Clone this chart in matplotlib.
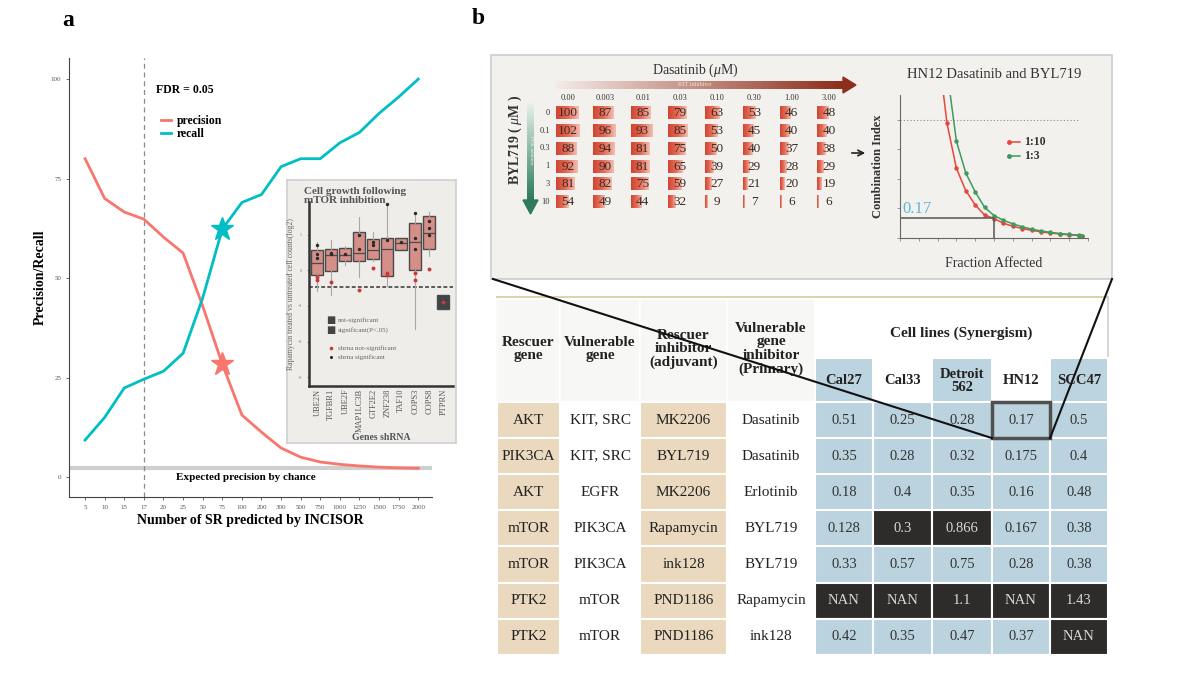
import numpy as np
import matplotlib
matplotlib.use("Agg")
import matplotlib.pyplot as plt
from matplotlib.patches import Rectangle, Polygon
from matplotlib.colors import LinearSegmentedColormap

plt.rcParams['font.family'] = ['Liberation Serif', 'DejaVu Serif']
plt.rcParams['mathtext.fontset'] = 'custom'
plt.rcParams['mathtext.rm'] = 'Liberation Serif'
plt.rcParams['mathtext.it'] = 'Liberation Serif:italic'

W, H = 1200, 676

# ---- panel a: precision / recall
sr_labels = ["5", "10", "15", "17", "20", "25", "50", "75", "100", "200", "300",
             "500", "750", "1000", "1250", "1500", "1750", "2000"]
precision = [80, 70, 66.6, 64.8, 60.3, 56.3, 43, 28.4, 15.6, 11.3, 7.3, 5, 3.8, 3.2, 2.8, 2.5, 2.3, 2.2]
recall = [9.3, 15, 22.4, 24.6, 26.6, 31.1, 45, 62.3, 69, 71, 78, 80, 80, 84, 86.6, 91.4, 95.5, 100]
chance_precision = 2.3
fdr_cut = "17"
star_at = "75"

# ---- inset: boxplots of shRNA growth
genes = ["UBE2N", "TGFBR1", "UBE2F", "MAP1LC3B", "GTF2E2", "ZNF238", "TAF10", "COPS3", "COPS8", "PTPRN"]
box_whishi = [0.8, 0.85, 0.67, 1.5, 1.08, 1.87, 0.92, 1.6, 1.65, -0.7]
box_q3 = [0.56, 0.59, 0.62, 1.08, 0.87, 0.9, 0.92, 1.33, 1.52, -0.7]
box_med = [0.2, 0.43, 0.43, 0.5, 0.57, 0.6, 0.76, 0.8, 1.04, -0.9]
box_q1 = [-0.14, -0.01, 0.25, 0.25, 0.31, -0.15, 0.57, 0.02, 0.59, -1.1]
box_whislo = [-0.58, -0.68, 0.15, -0.2, 0.25, -0.44, 0.57, -1.65, 0.39, -1.1]
box_significant = [True, True, True, True, True, True, True, True, True, False]
red_gene = [0, 0, 1, 3, 4, 5, 5, 7, 7, 8, 9]
red_val = [-0.2, -0.27, -0.33, -0.55, 0.06, -0.08, -0.12, -0.28, -0.07, 0.04, -0.9]
black_gene = [0, 0, 0, 1, 1, 2, 3, 3, 4, 4, 5, 5, 6, 7, 7, 7, 8, 8, 8]
black_val = [0.7, 0.35, 0.45, 0.5, 0.45, 0.45, 1.0, 0.6, 0.8, 0.7, 1.87, 0.85, 0.8, 1.6, 0.6, 0.9, 1.4, 1.2, 1.0]
control_level = -0.46

# ---- panel b: dose matrix
dasatinib_doses = ["0.00", "0.003", "0.01", "0.03", "0.10", "0.30", "1.00", "3.00"]
byl719_doses = ["0", "0.1", "0.3", "1", "3", "10"]
viability = [
    [100, 87, 85, 79, 63, 53, 46, 48],
    [102, 96, 93, 85, 53, 45, 40, 40],
    [88, 94, 81, 75, 50, 40, 37, 38],
    [92, 90, 81, 65, 39, 29, 28, 29],
    [81, 82, 75, 59, 27, 21, 20, 19],
    [54, 49, 44, 32, 9, 7, 6, 6],
]

# ---- combination index curves
fa_110 = [0.225, 0.25, 0.30, 0.35, 0.40, 0.45, 0.50, 0.55, 0.60, 0.65, 0.70, 0.75, 0.80, 0.85, 0.90, 0.95, 0.97]
ci_110 = [1.30, 0.97, 0.59, 0.40, 0.28, 0.195, 0.165, 0.125, 0.10, 0.08, 0.065, 0.052, 0.042, 0.034, 0.027, 0.021, 0.019]
fa_13 = [0.26, 0.30, 0.35, 0.40, 0.45, 0.50, 0.55, 0.60, 0.65, 0.70, 0.75, 0.80, 0.85, 0.90, 0.95, 0.97]
ci_13 = [1.30, 0.82, 0.55, 0.39, 0.26, 0.19, 0.15, 0.12, 0.095, 0.075, 0.06, 0.048, 0.038, 0.03, 0.024, 0.021]
ci_hn12 = 0.17
fa_hn12 = 0.5

# ---- synergy table
rescuer_gene = ["AKT", "PIK3CA", "AKT", "mTOR", "mTOR", "PTK2", "PTK2"]
vulnerable_gene = ["KIT, SRC", "KIT, SRC", "EGFR", "PIK3CA", "PIK3CA", "mTOR", "mTOR"]
rescuer_inhibitor = ["MK2206", "BYL719", "MK2206", "Rapamycin", "ink128", "PND1186", "PND1186"]
vulnerable_inhibitor = ["Dasatinib", "Dasatinib", "Erlotinib", "BYL719", "BYL719", "Rapamycin", "ink128"]
cell_lines = ["Cal27", "Cal33", "Detroit\n562", "HN12", "SCC47"]
ci_cal27 = ["0.51", "0.35", "0.18", "0.128", "0.33", "NAN", "0.42"]
ci_cal33 = ["0.25", "0.28", "0.4", "0.3", "0.57", "NAN", "0.35"]
ci_detroit = ["0.28", "0.32", "0.35", "0.866", "0.75", "1.1", "0.47"]
ci_hn12_col = ["0.17", "0.175", "0.16", "0.167", "0.28", "NAN", "0.37"]
ci_scc47 = ["0.5", "0.4", "0.48", "0.38", "0.38", "1.43", "NAN"]
dark_cells = [(3, 1), (3, 2), (5, 0), (5, 1), (5, 2), (5, 3), (5, 4), (6, 4)]

fig = plt.figure(figsize=(12, 6.76), dpi=100)


def px_axes(x0, y0, x1, y1, **kw):
    return fig.add_axes([x0 / W, 1 - y1 / H, (x1 - x0) / W, (y1 - y0) / H], **kw)


# background canvas in pixel coordinates
bg = px_axes(0, 0, W, H)
bg.set_xlim(0, W)
bg.set_ylim(H, 0)
bg.axis("off")
bg.text(68, 20, "a", fontsize=17, fontweight="bold", ha="center", va="center")
bg.text(478, 18, "b", fontsize=17, fontweight="bold", ha="center", va="center")

# ================= panel a =================
ax = px_axes(69, 58, 432, 497)
x = np.arange(len(sr_labels))
red, teal = "#F8766D", "#00BFC4"
ax.axhline(chance_precision, color="#CFCFCF", lw=3, zorder=1)
ax.axvline(sr_labels.index(fdr_cut), color="#8A8A8A", lw=0.9, ls=(0, (4, 3)), zorder=1)
lp, = ax.plot(x, precision, color=red, lw=2, label="precision", zorder=3)
lr, = ax.plot(x, recall, color=teal, lw=2, label="recall", zorder=3)
i75 = sr_labels.index(star_at)
ax.plot(i75, recall[i75], marker="*", ms=17, color=teal, zorder=4)
ax.plot(i75, precision[i75], marker="*", ms=17, color=red, zorder=4)
ax.set_xlim(-0.82, 17.7)
ax.set_ylim(-5, 105.3)
ax.set_xticks(x)
ax.set_xticklabels(sr_labels)
ax.set_yticks([0, 25, 50, 75, 100])
ax.tick_params(labelsize=5, colors="#555555", length=2, width=0.6)
for s in ["top", "right"]:
    ax.spines[s].set_visible(False)
for s in ["left", "bottom"]:
    ax.spines[s].set_color("#444444")
    ax.spines[s].set_linewidth(0.8)
ax.set_ylabel("Precision/Recall", fontsize=10, fontweight="bold", labelpad=3)
ax.set_xlabel("Number of SR predicted by INCISOR", fontsize=10, fontweight="bold", labelpad=3)
ax.text(8.2, chance_precision - 1.3, "Expected precision by chance", fontsize=8, fontweight="bold",
        ha="center", va="top")
ax.text(3.6, 97.2, "FDR = 0.05", fontsize=8.5, fontweight="bold", ha="left", va="center")
ax.legend(handles=[lp, lr], loc="upper left", bbox_to_anchor=(0.225, 0.895), frameon=False,
          handlelength=0.8, handletextpad=0.5, labelspacing=0.1,
          prop={"size": 8.5, "weight": "bold"})

# inset box
ibox = px_axes(287, 180, 456, 443)
ibox.set_facecolor("#EEEDEA")
ibox.set_xticks([])
ibox.set_yticks([])
for s in ibox.spines.values():
    s.set_color("#CFCFCF")
    s.set_linewidth(1.2)
ibox.text(0.1, 0.975, "Cell growth following\nmTOR inhibition", transform=ibox.transAxes,
          fontsize=8, fontweight="bold", color="#555555", ha="left", va="top", linespacing=1.0)

iax = px_axes(309, 202, 453, 386)
iax.patch.set_alpha(0)
stats = []
for i, g in enumerate(genes):
    stats.append(dict(whislo=box_whislo[i], q1=box_q1[i], med=box_med[i], q3=box_q3[i],
                      whishi=box_whishi[i], fliers=[], label=g))
bp = iax.bxp(stats, positions=np.arange(len(genes)), widths=0.85, patch_artist=True,
             showcaps=False,
             boxprops=dict(edgecolor="#4A4A4A", linewidth=1.0),
             medianprops=dict(color="#4A4A4A", linewidth=0.9),
             whiskerprops=dict(color="#A8A8A8", linewidth=0.8))
for patch, sig in zip(bp["boxes"], box_significant):
    patch.set_facecolor("#D58E88" if sig else "#3E4447")
iax.axhline(control_level, color="#333333", lw=1.1, ls=(0, (2.5, 1.5)), zorder=1)
iax.scatter(red_gene, red_val, s=8, color="#C9393B", zorder=5, linewidths=0)
iax.scatter(black_gene, black_val, s=6, color="#2A2A2A", zorder=5, linewidths=0)
iax.set_xlim(-0.6, 9.7)
iax.set_ylim(-3.25, 1.92)
iax.set_yticks([1, 0, -1, -2, -3])
iax.set_xticks(np.arange(len(genes)))
iax.set_xticklabels(genes, rotation=90, fontsize=6, color="#555555")
iax.tick_params(axis="y", labelsize=3, colors="#777777", length=1.5, width=0.5)
iax.tick_params(axis="x", length=0, pad=2)
for s in ["top", "right"]:
    iax.spines[s].set_visible(False)
iax.spines["left"].set_linewidth(1.8)
iax.spines["bottom"].set_linewidth(1.8)
iax.spines["left"].set_color("#333333")
iax.spines["bottom"].set_color("#333333")
iax.set_ylabel("Rapamycin treated vs untreated cell counts(log2)", fontsize=5.6, color="#666666", labelpad=2)
iax.set_xlabel("Genes shRNA", fontsize=7, fontweight="bold", color="#555555", labelpad=1)
# inset legend
iax.text(0.12, 0.36, "\u25A0", transform=iax.transAxes, fontsize=7, color="#444444",
         family="DejaVu Sans", va="center")
iax.text(0.2, 0.36, "not-significant", transform=iax.transAxes, fontsize=5, color="#666666", va="center")
iax.text(0.12, 0.305, "\u25A0", transform=iax.transAxes, fontsize=7, color="#444444",
         family="DejaVu Sans", va="center")
iax.text(0.2, 0.305, "significant(P<.05)", transform=iax.transAxes, fontsize=5, color="#666666", va="center")
iax.scatter([0.15], [0.205], transform=iax.transAxes, s=7, color="#C9393B", linewidths=0)
iax.text(0.2, 0.205, "shrna not-significant", transform=iax.transAxes, fontsize=5, color="#666666", va="center")
iax.scatter([0.15], [0.155], transform=iax.transAxes, s=5, color="#2A2A2A", linewidths=0)
iax.text(0.2, 0.155, "shrna significant", transform=iax.transAxes, fontsize=5, color="#666666", va="center")

# ================= panel b: upper box =================
bg.add_patch(Rectangle((491, 55), 621, 224, facecolor="#F2F1EE", edgecolor="#CCCCCC", lw=1.2, zorder=0))

bar_cmap = LinearSegmentedColormap.from_list("bar", ["#D04532", "#E46A55", "#F2BFB2"])
grad = np.linspace(0, 1, 64).reshape(1, -1)
col_x0, col_dx = 556, 37.3
row_y0, row_dy = 113, 17.7
for i, row in enumerate(viability):
    yc = row_y0 + i * row_dy
    bg.text(550, yc, byl719_doses[i], fontsize=6, ha="right", va="center", color="#333333")
    for j, v in enumerate(row):
        x0 = col_x0 + j * col_dx
        bg.imshow(grad, extent=(x0, x0 + 0.23 * v, yc + 6.5, yc - 6.5), cmap=bar_cmap,
                  aspect="auto", interpolation="bilinear", zorder=2)
        bg.text(x0 + 12, yc + 0.5, str(v), fontsize=9.5, ha="center", va="center", color="#3C2A22", zorder=3)
for j, d in enumerate(dasatinib_doses):
    bg.text(col_x0 + j * col_dx + 12, 98, d, fontsize=6, ha="center", va="center", color="#333333")

# dasatinib arrow
red_arrow = LinearSegmentedColormap.from_list("ra", ["#F4EAE6", "#8E2E1C"])
bg.imshow(grad, extent=(555, 843, 89, 81), cmap=red_arrow, aspect="auto", interpolation="bilinear", zorder=2)
bg.add_patch(Polygon([(843, 77), (856, 85), (843, 93)], color="#8E2E1C", zorder=2))
bg.text(695, 85, "KIT inhibitor", fontsize=4.5, color="#F2E4DF", ha="center", va="center", zorder=3)
bg.text(695, 70, "Dasatinib ($\\mu$M)", fontsize=10, ha="center", va="center", color="#333333")

# byl719 arrow
green_arrow = LinearSegmentedColormap.from_list("ga", ["#E6F1EB", "#2E7A5A"])
bg.imshow(grad.T, extent=(527, 534, 200, 103), cmap=green_arrow, aspect="auto", interpolation="bilinear",
          origin="upper", zorder=2)
bg.add_patch(Polygon([(523, 200), (538, 200), (530.5, 214)], color="#2E7A5A", zorder=2))
bg.text(530.5, 150, "PI3K inhibitor", fontsize=3.5, color="#F0F7F3", rotation=270, ha="center", va="center",
        zorder=3)
bg.text(515, 140, "BYL719 ( $\\mu$M )", fontsize=10, fontweight="bold", rotation=90,
        ha="center", va="center", color="#333333")

bg.annotate("", xy=(868, 153), xytext=(849, 153),
            arrowprops=dict(arrowstyle="->", color="#222222", lw=1.2))

# combination index plot
cax = px_axes(900, 95, 1088, 238)
cax.patch.set_alpha(0)
cax.plot(fa_110, ci_110, color="#E8463A", lw=1.1, marker="o", ms=2.2, markevery=list(range(1, len(fa_110))))
cax.plot(fa_13, ci_13, color="#3E9A5E", lw=1.1, marker="o", ms=2.2, markevery=list(range(1, len(fa_13))))
cax.hlines(1.0, 0, 0.95, colors="#888888", lw=0.8, linestyles=(0, (1, 2)))
cax.hlines(ci_hn12, 0, fa_hn12, colors="#555555", lw=1.1)
cax.vlines(fa_hn12, 0, ci_hn12, colors="#555555", lw=1.1)
cax.text(0.01, ci_hn12 + 0.01, "0.17", fontsize=12, color="#5DB6DC", ha="left", va="bottom")
cax.set_xlim(0, 1)
cax.set_ylim(0, 1.21)
cax.set_xticks(np.arange(0, 1.01, 0.1))
cax.set_yticks(np.arange(0, 1.21, 0.25))
cax.set_xticklabels([])
cax.set_yticklabels([])
cax.tick_params(length=2, width=0.6, colors="#888888")
for s in ["top", "right"]:
    cax.spines[s].set_visible(False)
for s in ["left", "bottom"]:
    cax.spines[s].set_color("#666666")
    cax.spines[s].set_linewidth(0.8)
cax.set_ylabel("Combination Index", fontsize=9, fontweight="bold", color="#333333", labelpad=6)
cax.set_xlabel("Fraction Affected", fontsize=10, color="#333333", labelpad=8)
cax.set_title("HN12 Dasatinib and BYL719", fontsize=10.5, color="#333333", pad=12)
cax.plot([0.58, 0.64], [0.67, 0.67], color="#E8463A", lw=1.1, marker="o", ms=2.5, markevery=[0],
         transform=cax.transAxes, clip_on=False)
cax.text(0.66, 0.67, "1:10", fontsize=8.5, fontweight="bold", color="#333333", va="center",
         transform=cax.transAxes)
cax.plot([0.58, 0.64], [0.57, 0.57], color="#3E9A5E", lw=1.1, marker="o", ms=2.5, markevery=[0],
         transform=cax.transAxes, clip_on=False)
cax.text(0.66, 0.57, "1:3", fontsize=8.5, fontweight="bold", color="#333333", va="center",
         transform=cax.transAxes)

# ================= panel b: table =================
col_edges = [497, 560, 640, 727, 815, 873, 932, 992, 1050, 1108]
row_top, row_h, n_rows = 402, 36.1, 7
tbl_top, tbl_bottom = 297, row_top + row_h * n_rows
bg.add_patch(Rectangle((col_edges[0], tbl_top), col_edges[-1] - col_edges[0], tbl_bottom - tbl_top,
                       facecolor="white", edgecolor="#CFCFCF", lw=1.2, zorder=1))
bg.plot([col_edges[0], col_edges[-1]], [tbl_top, tbl_top], color="#E0D2A6", lw=1.2, zorder=2)

text_cols = [rescuer_gene, vulnerable_gene, rescuer_inhibitor, vulnerable_inhibitor]
headers = ["Rescuer\ngene", "Vulnerable\ngene", "Rescuer\ninhibitor\n(adjuvant)",
           "Vulnerable\ngene\ninhibitor\n(Primary)"]
value_cols = [ci_cal27, ci_cal33, ci_detroit, ci_hn12_col, ci_scc47]
for c in range(4):
    xl, xr = col_edges[c], col_edges[c + 1]
    bg.add_patch(Rectangle((xl, tbl_top + 2), xr - xl, row_top - tbl_top - 2, facecolor="#F7F7F6",
                           edgecolor="white", lw=1.2, zorder=1.5))
    bg.text((xl + xr) / 2, 349, headers[c], fontsize=11, fontweight="bold", ha="center", va="center",
            color="#222222", linespacing=1.05, zorder=3)
    for r in range(n_rows):
        yt = row_top + r * row_h
        fc = "#EAD9BE" if c in (0, 2) else "white"
        bg.add_patch(Rectangle((xl, yt), xr - xl, row_h, facecolor=fc, edgecolor="white", lw=1.5, zorder=1.5))
        bg.text((xl + xr) / 2, yt + row_h / 2, text_cols[c][r], fontsize=11, ha="center", va="center",
                color="#222222", zorder=3)

bg.text((col_edges[4] + col_edges[-1]) / 2, 333, "Cell lines (Synergism)", fontsize=11, fontweight="bold",
        ha="center", va="center", color="#222222", zorder=3)
for k in range(5):
    xl, xr = col_edges[4 + k], col_edges[5 + k]
    if k in (0, 2, 4):
        bg.add_patch(Rectangle((xl, 358), xr - xl, row_top - 358, facecolor="#BCD4DF", edgecolor="white",
                               lw=1.5, zorder=1.5))
    bg.text((xl + xr) / 2, 381, cell_lines[k], fontsize=10.5, fontweight="bold", ha="center", va="center",
            color="#222222", linespacing=1.0, zorder=3)
    for r in range(n_rows):
        yt = row_top + r * row_h
        dark = (r, k) in dark_cells
        bg.add_patch(Rectangle((xl, yt), xr - xl, row_h, facecolor="#2E2C2A" if dark else "#BAD3DF",
                               edgecolor="white", lw=1.5, zorder=1.5))
        bg.text((xl + xr) / 2, yt + row_h / 2, value_cols[k][r], fontsize=10.5, ha="center", va="center",
                color="#D8D8D8" if dark else "#333333", zorder=3)

# highlight HN12 cell and zoom lines
hx0, hx1 = col_edges[7], col_edges[8]
bg.add_patch(Rectangle((hx0, row_top), hx1 - hx0, row_h, facecolor="none", edgecolor="#505050",
                       lw=2.5, zorder=4))

bg.set_xlim(0, W)
bg.set_ylim(H, 0)

top = px_axes(0, 0, W, H)
top.set_xlim(0, W)
top.set_ylim(H, 0)
top.axis("off")
top.plot([493, hx0], [279, row_top + row_h], color="#111111", lw=1.5)
top.plot([1112, hx1], [279, row_top + row_h], color="#111111", lw=1.5)

fig.savefig("out.png", dpi=100)
